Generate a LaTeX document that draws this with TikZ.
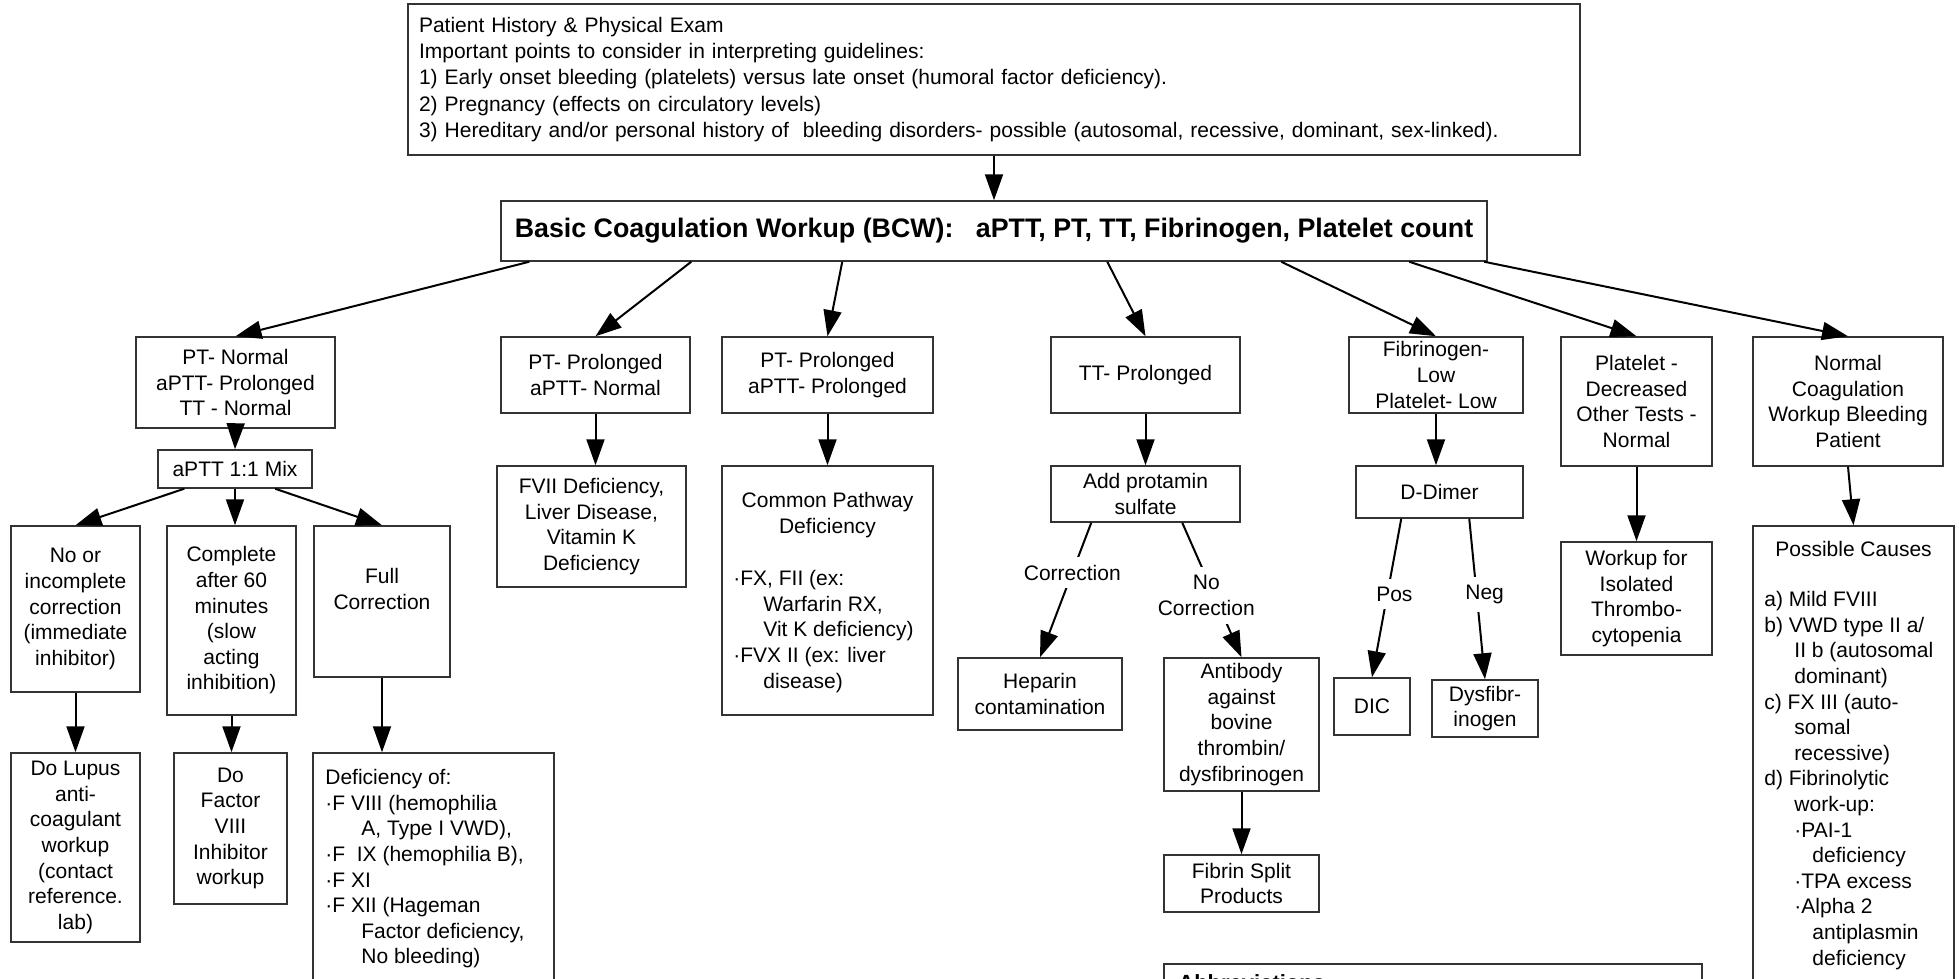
\documentclass[tikz,border=0pt]{standalone}
\usepackage{fontspec}
\setmainfont{Liberation Sans}
\usetikzlibrary{arrows.meta,calc}
\begin{document}
\begin{tikzpicture}[x=0.5pt,y=-0.5pt,
  every node/.style={font=\fontsize{10.5pt}{12.8pt}\selectfont},
  box/.style={draw=black!80, line width=0.75pt, inner sep=0pt, align=center},
  bb/.style n args={4}{at={({(#1+#3)/2},{(#2+#4)/2})}, anchor=center,
    minimum width={(#3-#1)*0.5pt}, minimum height={(#4-#2)*0.5pt}},
  txt/.style={inner sep=0pt, align=left},
  arr/.style={draw, line width=1pt, -{Triangle[length=13pt,width=9pt]}},
  lbl/.style={fill=white, inner sep=4pt, align=center}
]
\useasboundingbox (0,0) rectangle (1959,979);

% top
\node[box, bb={408}{4}{1580}{155}, text width=575pt, align=left,
  font=\fontsize{10.5pt}{13.1pt}\selectfont] (top) {Patient History \& Physical Exam\\Important points to consider in interpreting guidelines:\\1) Early onset bleeding (platelets) versus late onset (humoral factor deficiency).\\2) Pregnancy (effects on circulatory levels)\\3) Hereditary and/or personal history of\ \ bleeding disorders- possible (autosomal, recessive, dominant, sex-linked).};
\node[box, bb={501}{201}{1487}{261}, font=\bfseries\fontsize{13.4pt}{16pt}\selectfont] (bcw) {Basic Coagulation Workup (BCW):\ \ \ aPTT, PT, TT, Fibrinogen, Platelet count};

% branch 1
\node[box, bb={136}{337}{335}{428}] (ptn) {PT- Normal\\aPTT- Prolonged\\TT - Normal};
\node[box, bb={158}{450}{312}{488}] (mix) {aPTT 1:1 Mix};
\node[box, bb={11}{526}{140}{692}] (noinc) {No or\\incomplete\\correction\\(immediate\\inhibitor)};
\node[box, bb={167}{526}{296}{715}] (compl) {Complete\\after 60\\minutes\\(slow\\acting\\inhibition)};
\node[box, bb={314}{526}{450}{677}] (full) {Full\\Correction\\~};
\node[box, bb={11}{753}{140}{942}] (lupus) {Do Lupus\\anti-\\coagulant\\workup\\(contact\\reference.\\lab)};
\node[box, bb={174}{753}{287}{904}] (dofac) {Do\\Factor\\VIII\\Inhibitor\\workup};
\node[box, bb={313}{753}{554}{1000}] (defic) {};
\node[txt, anchor=north west] (defictxt) at (325,769) {Deficiency of:\\·F VIII (hemophilia\\\hspace*{18pt}A, Type I VWD),\\·F\ \ IX (hemophilia B),\\·F XI\\·F XII (Hageman\\\hspace*{18pt}Factor deficiency,\\\hspace*{18pt}No bleeding)};

% branches 2, 3
\node[box, bb={501}{337}{690}{413}] (b2) {PT- Prolonged\\aPTT- Normal};
\node[box, bb={497}{466}{686}{587}] (fvii) {FVII Deficiency,\\Liver Disease,\\Vitamin K\\Deficiency};
\node[box, bb={722}{337}{933}{413}] (b3) {PT- Prolonged\\aPTT- Prolonged};
\node[box, bb={722}{466}{933}{715}] (cp) {};
\node[txt, anchor=north, align=center] (cphead) at (827.5,492) {Common Pathway\\Deficiency};
\node[txt, anchor=north west] (cplist) at (733,570) {·FX, FII (ex:\\\hspace*{15pt}Warfarin RX,\\\hspace*{15pt}Vit K deficiency)\\·FVX II (ex: liver\\\hspace*{15pt}disease)};

% branch 4
\node[box, bb={1051}{337}{1240}{413}] (tt) {TT- Prolonged};
\node[box, bb={1051}{466}{1240}{522}] (prot) {Add protamin\\sulfate};
\node[box, bb={958}{658}{1122}{730}] (hep) {Heparin\\contamination};
\node[box, bb={1164}{658}{1319}{791}] (anti) {Antibody\\against\\bovine\\thrombin/\\dysfibrinogen};
\node[box, bb={1164}{855}{1319}{912}] (fsp) {Fibrin Split\\Products};

% branch 5
\node[box, bb={1349}{337}{1523}{413}] (fib) {Fibrinogen-\\Low\\Platelet- Low};
\node[box, bb={1356}{466}{1523}{518}] (ddim) {D-Dimer};
\node[box, bb={1334}{678}{1410}{735}] (dic) {DIC};
\node[box, bb={1432}{680}{1538}{737}] (dys) {Dysfibr-\\inogen};

% branches 6, 7
\node[box, bb={1561}{337}{1712}{466}] (plat) {Platelet -\\Decreased\\Other Tests -\\Normal};
\node[box, bb={1561}{542}{1712}{655}] (work) {Workup for\\Isolated\\Thrombo-\\cytopenia};
\node[box, bb={1753}{337}{1943}{466}] (norm) {Normal\\Coagulation\\Workup Bleeding\\Patient};
\node[box, bb={1753}{526}{1954}{1000}] (poss) {};
\node[txt, anchor=north, align=center] (posshead) at (1853.5,540.5) {Possible Causes};
\node[txt, anchor=north west] (posslist) at (1764,591) {a) Mild FVIII\\b) VWD type II a/\\\hspace*{15pt}II b (autosomal\\\hspace*{15pt}dominant)\\c) FX III (auto-\\\hspace*{15pt}somal\\\hspace*{15pt}recessive)\\d) Fibrinolytic\\\hspace*{15pt}work-up:\\\hspace*{15pt}·PAI-1\\\hspace*{24pt}deficiency\\\hspace*{15pt}·TPA excess\\\hspace*{15pt}·Alpha 2\\\hspace*{24pt}antiplasmin\\\hspace*{24pt}deficiency};

% abbreviations
\node[box, bb={1164}{964}{1702}{1050}] (abbr) {};
\node[txt, anchor=north west, font=\bfseries\fontsize{11pt}{13pt}\selectfont] (abbrtxt) at (1178,974.5) {Abbreviations};

% connectors
\draw[arr] (top.south) -- (bcw.north);
\draw[arr] ([xshift=14.5pt]bcw.south west) -- (ptn.north);
\draw[arr] ([xshift=95.5pt]bcw.south west) -- (b2.north);
\draw[arr] ([xshift=171pt]bcw.south west) -- (b3.north);
\draw[arr] ([xshift=303.5pt]bcw.south west) -- (tt.north);
\draw[arr] ([xshift=390.5pt]bcw.south west) -- (fib.north);
\draw[arr] ([xshift=454.5pt]bcw.south west) -- (plat.north);
\draw[arr] ([xshift=492pt]bcw.south west) -- (norm.north);

\draw[arr] (ptn.south) -- (mix.north);
\draw[arr] ([xshift=13.5pt]mix.south west) -- (noinc.north);
\draw[arr] (mix.south) -- (mix.south |- compl.north);
\draw[arr] ([xshift=59pt]mix.south west) -- (full.north);
\draw[arr] (noinc.south) -- (lupus.north);
\draw[arr] (compl.south) -- (compl.south |- dofac.north);
\draw[arr] (full.south) -- (full.south |- defic.north);

\draw[arr] (b2.south) -- (b2.south |- fvii.north);
\draw[arr] (b3.south) -- (cp.north);

\draw[arr] (tt.south) -- (prot.north);
\draw[arr] ([xshift=20.5pt]prot.south west) -- node[lbl, pos=0.37] (lcorr) {Correction} (hep.north);
\draw[arr] ([xshift=66pt]prot.south west) -- node[lbl, pos=0.54, xshift=-4pt] (lnocorr) {No\\Correction} (anti.north);
\draw[arr] (anti.south) -- (fsp.north);

\draw[arr] (fib.south) -- (fib.south |- ddim.north);
\draw[arr] ([xshift=23pt]ddim.south west) -- node[lbl, pos=0.475, xshift=3.5pt] (lpos) {Pos} (dic.north);
\draw[arr] ([xshift=57pt]ddim.south west) -- node[lbl, pos=0.47, xshift=4pt] (lneg) {Neg} (dys.north);

\draw[arr] (plat.south) -- (work.north);
\draw[arr] (norm.south) -- (poss.north);
\end{tikzpicture}
\end{document}
